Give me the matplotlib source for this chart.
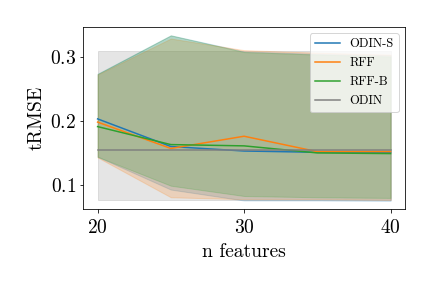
import matplotlib
matplotlib.use("Agg")
import matplotlib.pyplot as plt
import numpy as np

plt.rcParams['font.family'] = 'serif'
plt.rcParams['font.serif'] = ['cmr10']
plt.rcParams['mathtext.fontset'] = 'cm'
plt.rcParams['axes.formatter.use_mathtext'] = True
plt.rcParams['axes.unicode_minus'] = False

n_features = [20, 25, 30, 35, 40]

odins_mean = [0.203, 0.160, 0.153, 0.151, 0.151]
odins_low = [0.144, 0.093, 0.076, 0.076, 0.0755]
odins_high = [0.273, 0.333, 0.308, 0.304, 0.302]

rff_mean = [0.198, 0.157, 0.176, 0.152, 0.152]
rff_low = [0.143, 0.081, 0.078, 0.078, 0.077]
rff_high = [0.272, 0.328, 0.310, 0.306, 0.303]

rffb_mean = [0.191, 0.163, 0.161, 0.150, 0.149]
rffb_low = [0.144, 0.099, 0.083, 0.081, 0.080]
rffb_high = [0.273, 0.333, 0.307, 0.303, 0.300]

odin_mean = 0.155
odin_low = 0.077
odin_high = 0.308

fig, ax = plt.subplots(figsize=(6, 4), dpi=72)

x = np.array(n_features)
ax.fill_between(x, np.full(len(x), odin_low), np.full(len(x), odin_high), color='C7', alpha=0.2)

ax.plot(n_features, odins_mean, color='C0', label='ODIN-S', lw=1.5)
ax.fill_between(n_features, odins_low, odins_high, color='C0', alpha=0.2)
ax.plot(n_features, rff_mean, color='C1', label='RFF', lw=1.5)
ax.fill_between(n_features, rff_low, rff_high, color='C1', alpha=0.2)
ax.plot(n_features, rffb_mean, color='C2', label='RFF-B', lw=1.5)
ax.fill_between(n_features, rffb_low, rffb_high, color='C2', alpha=0.2)

ax.plot(x, np.full(len(x), odin_mean), color='C7', label='ODIN', lw=1.5)

ax.set_xticks([20, 30, 40])
ax.set_yticks([0.1, 0.2, 0.3])
ax.tick_params(labelsize=19.5)
ax.tick_params(axis='x', pad=6)
ax.set_xlabel('n features', fontsize=19.5, labelpad=6)
ax.set_ylabel('tRMSE', fontsize=19.5)
ax.legend(loc='upper right', fontsize=12.5, labelspacing=0.55)

fig.subplots_adjust(left=0.192, right=0.938, top=0.906, bottom=0.274)
fig.savefig('out.png', dpi=72)
